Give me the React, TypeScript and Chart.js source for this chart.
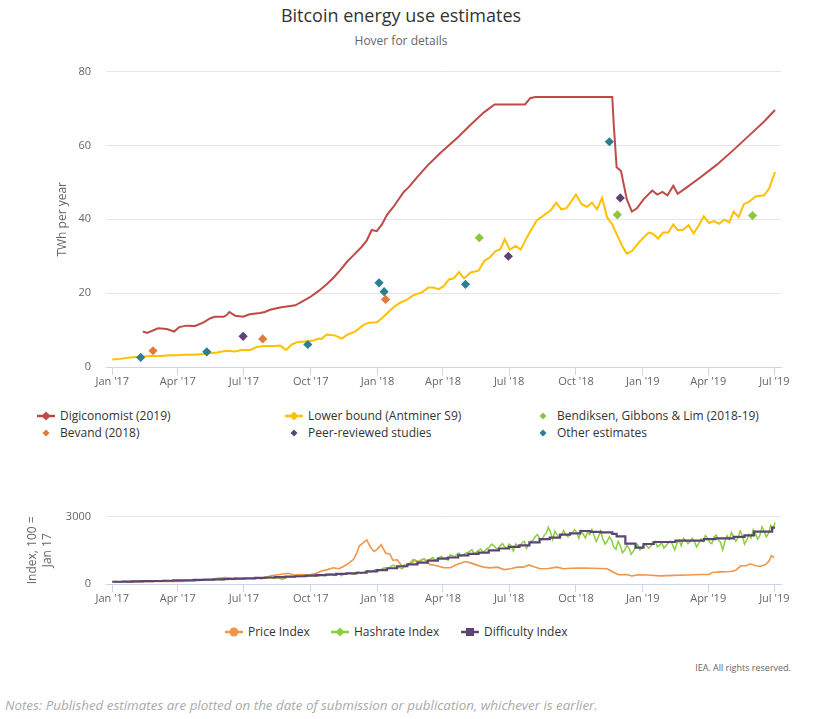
import React, { useEffect, useRef } from 'react';
import Chart from 'chart.js/auto';

const FONT = '"Open Sans", "Noto Sans", sans-serif';

// x positions are days since 1 Jan 2017
const tickDays = [0, 90, 181, 273, 365, 455, 546, 638, 730, 820, 911];
const tickLabels = ["Jan '17", "Apr '17", "Jul '17", "Oct '17", "Jan '18", "Apr '18", "Jul '18", "Oct '18", "Jan '19", "Apr '19", "Jul '19"];

// ---- Top chart: TWh per year ----
const digiDays = [42, 48, 63, 75, 85, 92, 102, 114, 125, 135, 141, 153, 157, 161, 169, 180, 189, 203, 210, 217, 231, 240, 252, 258, 272, 284, 295, 304, 314, 323, 332, 343, 350, 357, 364, 371, 378, 387, 401, 408, 419, 433, 451, 476, 492, 511, 526, 568, 575, 582, 688, 690, 694, 700, 708, 715, 722, 731, 743, 750, 757, 764, 772, 778, 791, 809, 832, 855, 878, 897, 912];
const digiValues = [9.6, 9.2, 10.5, 10.3, 9.6, 10.8, 11.2, 11.1, 12.0, 13.2, 13.6, 13.6, 14.0, 14.9, 13.9, 13.6, 14.3, 14.6, 14.9, 15.5, 16.1, 16.4, 16.7, 17.4, 18.9, 20.6, 22.4, 24.1, 26.3, 28.5, 30.3, 32.5, 34.2, 37.1, 36.8, 38.6, 41.2, 43.4, 47.4, 48.7, 51.3, 54.4, 57.9, 62.3, 65.4, 68.9, 71.1, 71.1, 72.8, 73.1, 73.1, 65.8, 54.1, 53.1, 45.4, 42.1, 43.0, 45.4, 47.8, 46.7, 47.4, 46.5, 49.1, 46.9, 48.7, 51.3, 54.8, 58.8, 63.0, 66.5, 69.6];

const lowerDays = [0, 11, 24, 38, 52, 66, 79, 91, 98, 112, 125, 135, 144, 157, 169, 178, 190, 199, 208, 222, 231, 239, 247, 256, 268, 277, 284, 288, 295, 307, 316, 324, 334, 346, 353, 364, 371, 380, 389, 396, 405, 415, 426, 435, 442, 449, 456, 463, 470, 477, 484, 493, 504, 512, 519, 527, 534, 540, 547, 555, 562, 571, 584, 603, 611, 618, 625, 638, 646, 653, 660, 667, 674, 681, 688, 702, 708, 715, 725, 738, 744, 751, 758, 765, 772, 778, 785, 793, 800, 807, 814, 821, 828, 835, 842, 849, 855, 862, 869, 876, 885, 897, 904, 912];
const lowerValues = [2.0, 2.2, 2.6, 2.8, 3.0, 3.0, 3.2, 3.2, 3.3, 3.3, 3.5, 3.7, 3.9, 4.4, 4.2, 4.6, 4.6, 5.4, 5.7, 5.7, 5.8, 4.6, 6.1, 6.8, 7.0, 7.2, 7.7, 7.6, 8.8, 8.5, 7.7, 8.8, 9.6, 11.4, 12.0, 12.1, 13.2, 14.9, 16.5, 17.4, 18.2, 19.5, 20.2, 21.5, 21.5, 21.1, 21.9, 23.7, 24.0, 25.7, 24.0, 25.6, 26.1, 28.8, 29.6, 31.3, 31.9, 34.6, 31.8, 32.8, 31.8, 35.3, 39.7, 42.4, 44.5, 42.7, 43.0, 46.7, 44.1, 43.4, 44.5, 42.7, 45.8, 40.5, 38.6, 32.6, 30.7, 31.4, 33.8, 36.4, 36.1, 34.8, 36.4, 36.4, 38.6, 37.1, 37.1, 38.4, 36.2, 38.3, 40.8, 39.0, 39.5, 38.8, 39.9, 39.2, 42.1, 40.6, 44.1, 44.7, 46.2, 46.5, 48.4, 52.8];

const bendiksenDays = [505, 695, 881];
const bendiksenValues = [35.0, 41.2, 41.0];
const bevandDays = [56, 207, 376];
const bevandValues = [4.4, 7.6, 18.3];
const peerDays = [180, 545, 699];
const peerValues = [8.3, 30.0, 45.8];
const otherDays = [39, 130, 269, 367, 374, 486, 684];
const otherValues = [2.6, 4.1, 6.1, 22.8, 20.4, 22.4, 61.0];

// ---- Bottom chart: index, 100 = Jan 17 ----
const priceDays = [0, 20, 40, 60, 75, 90, 105, 120, 135, 145, 155, 165, 175, 185, 195, 210, 220, 230, 242, 250, 260, 270, 280, 288, 296, 304, 312, 318, 325, 332, 336, 340, 344, 350, 355, 360, 364, 370, 376, 382, 386, 392, 397, 401, 408, 414, 421, 429, 437, 447, 456, 465, 474, 486, 493, 502, 511, 520, 530, 539, 548, 557, 566, 573, 580, 589, 600, 612, 621, 631, 649, 681, 690, 697, 708, 715, 725, 736, 754, 773, 791, 810, 821, 826, 837, 851, 858, 865, 872, 878, 885, 892, 899, 904, 907, 911];
const priceValues = [100, 95, 105, 120, 110, 115, 130, 160, 200, 250, 290, 260, 250, 240, 230, 290, 380, 420, 480, 400, 420, 400, 470, 580, 640, 720, 680, 780, 920, 1100, 1350, 1700, 1800, 1970, 1650, 1450, 1530, 1750, 1380, 1330, 1060, 1080, 870, 740, 870, 1080, 1000, 1130, 870, 810, 720, 720, 870, 1000, 940, 840, 750, 720, 750, 640, 680, 750, 750, 850, 770, 680, 690, 750, 680, 700, 710, 680, 515, 410, 420, 360, 410, 400, 360, 385, 400, 420, 420, 515, 540, 555, 615, 810, 810, 900, 810, 790, 870, 1030, 1260, 1170];

// hashrate: samples on days 0, 6, 12, ... and in-between samples on days 3, 9, 15, ...
const hashStepDays = 6;
const hashValues = [100, 108, 104, 118, 112, 124, 130, 121, 136, 141, 131, 146, 152, 140, 157, 162, 149, 166, 172, 160, 180, 186, 171, 192, 200, 184, 207, 216, 198, 226, 236, 214, 246, 256, 228, 266, 276, 248, 282, 205, 292, 318, 344, 328, 372, 348, 396, 332, 420, 398, 446, 378, 462, 418, 478, 440, 500, 470, 560, 540, 610, 580, 690, 650, 800, 760, 720, 860, 900, 1000, 950, 1060, 1010, 1120, 1060, 1180, 1120, 1060, 1260, 1320, 1240, 1370, 1460, 1340, 1500, 1420, 1590, 1780, 1600, 1720, 1650, 1780, 1460, 1700, 1850, 1590, 1900, 2100, 2030, 2150, 2520, 1970, 2200, 2150, 2220, 2290, 2420, 2030, 2220, 2300, 2420, 1900, 2360, 1780, 2100, 1650, 1900, 1390, 1720, 1330, 1650, 1520, 1780, 1590, 1850, 1650, 1850, 1700, 1910, 1520, 1950, 2030, 1800, 2030, 1650, 2000, 2150, 1850, 2100, 1950, 1520, 2150, 2290, 1900, 2360, 1780, 2200, 2420, 2000, 2550, 2100, 2610, 2740];
const hashMidValues = [112, 98, 115, 106, 128, 119, 134, 128, 130, 147, 138, 141, 158, 148, 150, 170, 158, 160, 178, 168, 172, 194, 182, 186, 208, 195, 200, 224, 210, 218, 244, 230, 238, 262, 245, 252, 284, 262, 240, 250, 300, 310, 360, 340, 330, 380, 360, 380, 370, 420, 430, 400, 360, 450, 500, 430, 530, 500, 590, 560, 640, 620, 720, 700, 840, 790, 680, 830, 940, 1060, 980, 1110, 1050, 1180, 1100, 1230, 1180, 1300, 1200, 1380, 1290, 1400, 1520, 1420, 1560, 1480, 1640, 1700, 1560, 1800, 1600, 1680, 1780, 1640, 1900, 1760, 1950, 2200, 1960, 2250, 2300, 2350, 2050, 2380, 2100, 2250, 2300, 2380, 2050, 2200, 2150, 2100, 2000, 1900, 1950, 1550, 1700, 1500, 1600, 1450, 1750, 1600, 1700, 1680, 1900, 1720, 1600, 1820, 1750, 1800, 1700, 1950, 1880, 1900, 1820, 1900, 2050, 1800, 2180, 1850, 1900, 1980, 2100, 2050, 2150, 1950, 2050, 2250, 2150, 2350, 2250, 2450];

const diffDays = [0, 14, 28, 42, 56, 70, 84, 98, 112, 126, 140, 154, 168, 182, 196, 210, 224, 238, 252, 266, 280, 294, 308, 322, 336, 350, 364, 378, 392, 406, 420, 434, 448, 462, 476, 490, 504, 518, 532, 546, 560, 574, 588, 602, 616, 630, 644, 658, 672, 688, 694, 706, 720, 731, 745, 760, 775, 790, 814, 830, 855, 870, 883, 898, 908, 912];
const diffValues = [100, 110, 118, 126, 134, 145, 158, 168, 180, 192, 205, 222, 240, 255, 275, 290, 305, 330, 345, 370, 395, 420, 455, 470, 500, 560, 620, 700, 790, 870, 950, 1040, 1130, 1180, 1270, 1340, 1400, 1500, 1580, 1650, 1720, 1850, 2000, 2060, 2200, 2250, 2360, 2320, 2300, 2230, 2120, 1800, 1620, 1780, 1870, 1870, 1930, 1930, 2000, 2030, 2100, 2160, 2330, 2330, 2510, 2510];

const COLORS = {
  digi: '#be4b48',
  lower: '#ffc000',
  bendiksen: '#8dc63f',
  bevand: '#e07b39',
  peer: '#5c4275',
  other: '#2b7f8e',
  price: '#f0954a',
  hash: '#8ccf3c',
  diff: '#5d4477',
};

function pts(days: number[], vals: number[]) {
  return days.map((d, i) => ({ x: d, y: vals[i] }));
}

function hashPoints() {
  const out: { x: number; y: number }[] = [];
  hashValues.forEach((v, i) => {
    out.push({ x: i * hashStepDays, y: v });
    if (i < hashMidValues.length) out.push({ x: i * hashStepDays + hashStepDays / 2, y: hashMidValues[i] });
  });
  return out;
}

function xScale(height: number) {
  return {
    type: 'linear',
    min: -8.7,
    max: 920.2,
    afterBuildTicks: (s: any) => {
      s.ticks = tickDays.map((v) => ({ value: v }));
    },
    afterFit: (s: any) => {
      s.height = height;
    },
    ticks: {
      autoSkip: false,
      maxRotation: 0,
      minRotation: 0,
      padding: 0,
      color: '#666666',
      font: { family: FONT, size: 11 },
      callback: (_v: any, i: number) => tickLabels[i],
    },
    grid: { drawOnChartArea: false, drawTicks: true, tickLength: 8, color: '#ccd6eb', lineWidth: 1 },
    border: { display: true, color: '#ccd6eb', width: 1 },
  };
}

function lineDs(label: string, data: any[], color: string, width: number, order: number, extra: any = {}) {
  return {
    label,
    data,
    borderColor: color,
    backgroundColor: color,
    borderWidth: width,
    pointRadius: 0,
    tension: 0,
    fill: false,
    order,
    ...extra,
  };
}

function scatterDs(label: string, days: number[], vals: number[], color: string, order: number) {
  return {
    label,
    data: pts(days, vals),
    showLine: false,
    pointStyle: 'rectRot',
    pointRadius: 4.6,
    pointBorderWidth: 0,
    borderWidth: 0,
    backgroundColor: color,
    borderColor: color,
    order,
  };
}

function TopChart() {
  const ref = useRef<HTMLCanvasElement>(null);
  useEffect(() => {
    const chart = new Chart(ref.current as HTMLCanvasElement, {
      type: 'line',
      data: {
        datasets: [
          scatterDs('Other estimates', otherDays, otherValues, COLORS.other, 0),
          scatterDs('Peer-reviewed studies', peerDays, peerValues, COLORS.peer, 1),
          scatterDs('Bevand (2018)', bevandDays, bevandValues, COLORS.bevand, 2),
          scatterDs('Bendiksen, Gibbons & Lim (2018-19)', bendiksenDays, bendiksenValues, COLORS.bendiksen, 3),
          lineDs('Lower bound (Antminer S9)', pts(lowerDays, lowerValues), COLORS.lower, 2, 4),
          lineDs('Digiconomist (2019)', pts(digiDays, digiValues), COLORS.digi, 2, 5),
        ] as any,
      },
      options: {
        responsive: false,
        devicePixelRatio: 1,
        animation: false,
        layout: { padding: { top: 12, right: 32, left: 0, bottom: 0 } },
        plugins: { legend: { display: false }, tooltip: { enabled: false }, title: { display: false } },
        scales: {
          x: xScale(28) as any,
          y: {
            min: 0,
            max: 80,
            afterFit: (s: any) => {
              s.width = 106;
            },
            ticks: { stepSize: 20, padding: 15, color: '#666666', font: { family: FONT, size: 11 } },
            grid: { color: '#e6e6e6', lineWidth: 1, drawTicks: false },
            border: { display: false },
            title: {
              display: true,
              text: 'TWh per year',
              color: '#666666',
              font: { family: FONT, size: 12 },
              padding: { top: 55, bottom: 0 },
            },
          },
        },
      } as any,
    });
    return () => chart.destroy();
  }, []);
  return <canvas ref={ref} width={813} height={345} style={{ position: 'absolute', left: 0, top: 50, width: 813, height: 345 }} />;
}

function BottomChart() {
  const ref = useRef<HTMLCanvasElement>(null);
  useEffect(() => {
    const chart = new Chart(ref.current as HTMLCanvasElement, {
      type: 'line',
      data: {
        datasets: [
          lineDs('Difficulty Index', pts(diffDays, diffValues), COLORS.diff, 2.2, 0, { stepped: 'before' }),
          lineDs('Hashrate Index', hashPoints(), COLORS.hash, 1.5, 1),
          lineDs('Price Index', pts(priceDays, priceValues), COLORS.price, 1.6, 2),
        ] as any,
      },
      options: {
        responsive: false,
        devicePixelRatio: 1,
        animation: false,
        layout: { padding: { top: 12, right: 32, left: 0, bottom: 0 } },
        plugins: { legend: { display: false }, tooltip: { enabled: false }, title: { display: false } },
        scales: {
          x: xScale(26) as any,
          y: {
            min: 0,
            max: 3000,
            afterFit: (s: any) => {
              s.width = 106;
            },
            ticks: {
              stepSize: 3000,
              padding: 15,
              color: '#666666',
              font: { family: FONT, size: 11 },
              callback: (v: any) => String(v),
            },
            grid: { color: '#e6e6e6', lineWidth: 1, drawTicks: false },
            border: { display: false },
            title: {
              display: true,
              text: ['Index, 100 =', 'Jan 17'],
              color: '#666666',
              font: { family: FONT, size: 12, lineHeight: 1.25 },
              padding: { top: 25.5, bottom: 0 },
            },
          },
        },
      } as any,
    });
    return () => chart.destroy();
  }, []);
  return <canvas ref={ref} width={813} height={115} style={{ position: 'absolute', left: 0, top: 495, width: 813, height: 115 }} />;
}

type Marker = 'diamond' | 'circle' | 'square';

function LegendIcon({ color, line, marker, size }: { color: string; line: boolean; marker: Marker; size: number }) {
  const w = 18;
  const h = 12;
  const cx = w / 2;
  const cy = h / 2;
  let shape: any = null;
  if (marker === 'diamond') {
    shape = <polygon points={`${cx},${cy - size} ${cx + size},${cy} ${cx},${cy + size} ${cx - size},${cy}`} fill={color} />;
  } else if (marker === 'circle') {
    shape = <circle cx={cx} cy={cy} r={size} fill={color} />;
  } else {
    shape = <rect x={cx - size} y={cy - size} width={size * 2} height={size * 2} fill={color} />;
  }
  return (
    <svg width={w} height={h} style={{ display: 'block' }}>
      {line ? <line x1={0} y1={cy} x2={w} y2={cy} stroke={color} strokeWidth={2.5} /> : null}
      {shape}
    </svg>
  );
}

const topLegendItems = [
  { label: 'Digiconomist (2019)', color: COLORS.digi, line: true, col: 0, row: 0 },
  { label: 'Lower bound (Antminer S9)', color: COLORS.lower, line: true, col: 1, row: 0 },
  { label: 'Bendiksen, Gibbons & Lim (2018-19)', color: COLORS.bendiksen, line: false, col: 2, row: 0 },
  { label: 'Bevand (2018)', color: COLORS.bevand, line: false, col: 0, row: 1 },
  { label: 'Peer-reviewed studies', color: COLORS.peer, line: false, col: 1, row: 1 },
  { label: 'Other estimates', color: COLORS.other, line: false, col: 2, row: 1 },
];

const bottomLegendItems: { label: string; color: string; marker: Marker; x: number }[] = [
  { label: 'Price Index', color: COLORS.price, marker: 'circle', x: 234 },
  { label: 'Hashrate Index', color: COLORS.hash, marker: 'diamond', x: 340 },
  { label: 'Difficulty Index', color: COLORS.diff, marker: 'square', x: 470 },
];

export default function App() {
  const colX = [46, 294, 543];
  const rowY = [416, 433];
  return (
    <div style={{ position: 'absolute', left: 0, top: 0, width: 813, height: 719, background: '#ffffff', fontFamily: FONT, overflow: 'hidden' }}>
      <div style={{ position: 'absolute', left: 0, top: 3, width: 802, textAlign: 'center', fontSize: 18, lineHeight: '24px', color: '#333333' }}>
        Bitcoin energy use estimates
      </div>
      <div style={{ position: 'absolute', left: 0, top: 33, width: 802, textAlign: 'center', fontSize: 12, lineHeight: '16px', color: '#666666' }}>
        Hover for details
      </div>
      <TopChart />
      {topLegendItems.map((it) => (
        <div key={it.label} style={{ position: 'absolute', left: colX[it.col] - 9, top: rowY[it.row] - 8, height: 16, display: 'flex', alignItems: 'center', whiteSpace: 'nowrap' }}>
          <LegendIcon color={it.color} line={it.line} marker="diamond" size={it.line ? 4.5 : 3.5} />
          <span style={{ marginLeft: 5, fontSize: 12, lineHeight: '16px', color: '#333333' }}>{it.label}</span>
        </div>
      ))}
      <BottomChart />
      {bottomLegendItems.map((it) => (
        <div key={it.label} style={{ position: 'absolute', left: it.x - 9, top: 632 - 8, height: 16, display: 'flex', alignItems: 'center', whiteSpace: 'nowrap' }}>
          <LegendIcon color={it.color} line={true} marker={it.marker} size={it.marker === 'square' ? 4 : 4.5} />
          <span style={{ marginLeft: 5, fontSize: 12, lineHeight: '16px', color: '#333333' }}>{it.label}</span>
        </div>
      ))}
      <div style={{ position: 'absolute', right: 22, top: 662, fontSize: 9, lineHeight: '12px', color: '#666666', whiteSpace: 'nowrap' }}>
        IEA. All rights reserved.
      </div>
      <div style={{ position: 'absolute', left: 5, top: 696, fontSize: 13.4, lineHeight: '18px', color: '#aaaaaa', fontStyle: 'italic', whiteSpace: 'nowrap' }}>
        Notes: Published estimates are plotted on the date of submission or publication, whichever is earlier.
      </div>
    </div>
  );
}
